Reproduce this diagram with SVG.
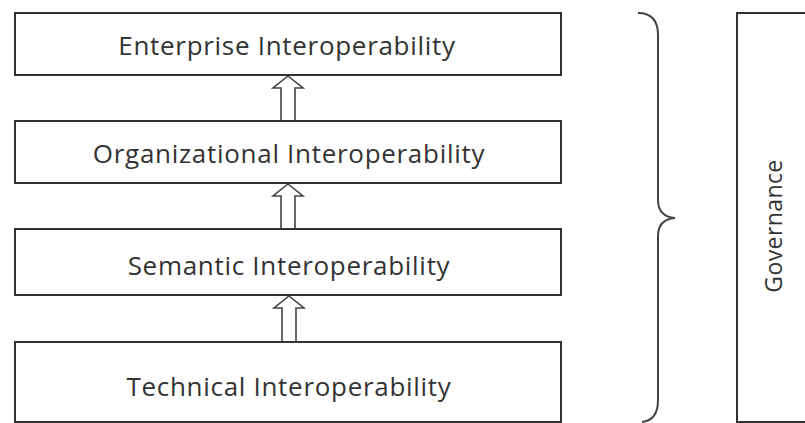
<svg xmlns="http://www.w3.org/2000/svg" width="805" height="423" viewBox="0 0 805 423">
  <style>
    .box { fill: #ffffff; stroke: #333333; stroke-width: 2; }
    .lbl { font-family: "Open Sans", "Noto Sans", sans-serif; font-size: 26px; letter-spacing: 0.7px; fill: #333333; text-anchor: middle; dominant-baseline: central; }
    .side { font-size: 23px; letter-spacing: 0.4px; }
    .up { fill: #ffffff; stroke: #444444; stroke-width: 1.6; stroke-linejoin: miter; }
    .brace { fill: none; stroke: #444444; stroke-width: 2; }
  </style>
  <defs>
    <!-- hollow block arrow pointing up, tip at origin -->
    <path id="upArrow" d="M0,0 L15,12 L7,12 L7,46 L-7,46 L-7,12 L-15,12 Z"/>
  </defs>
  <rect width="805" height="423" fill="#ffffff"/>

  <g id="connectors">
    <use href="#upArrow" class="up" x="288" y="76"/>
    <use href="#upArrow" class="up" x="288" y="184"/>
    <use href="#upArrow" class="up" x="289" y="296"/>
  </g>

  <g id="enterprise">
    <rect class="box" x="15" y="13" width="546" height="62"/>
    <text class="lbl" x="287" y="45">Enterprise Interoperability</text>
  </g>
  <g id="organizational">
    <rect class="box" x="15" y="121" width="546" height="62"/>
    <text class="lbl" x="289" y="153">Organizational Interoperability</text>
  </g>
  <g id="semantic">
    <rect class="box" x="15" y="229" width="546" height="66"/>
    <text class="lbl" x="289" y="265">Semantic Interoperability</text>
  </g>
  <g id="technical">
    <rect class="box" x="15" y="342" width="546" height="80"/>
    <text class="lbl" x="289" y="386">Technical Interoperability</text>
  </g>

  <g id="brace">
    <path class="brace" d="M638,13 C651,13 658,20 658,35 L658,200 C658,211 664,217 675,218 C664,219 658,225 658,236 L658,400 C658,414 652,421 642,422"/>
  </g>

  <g id="governance">
    <rect class="box" x="737" y="13" width="100" height="409"/>
    <text class="lbl side" transform="translate(773,226) rotate(-90)">Governance</text>
  </g>
</svg>
